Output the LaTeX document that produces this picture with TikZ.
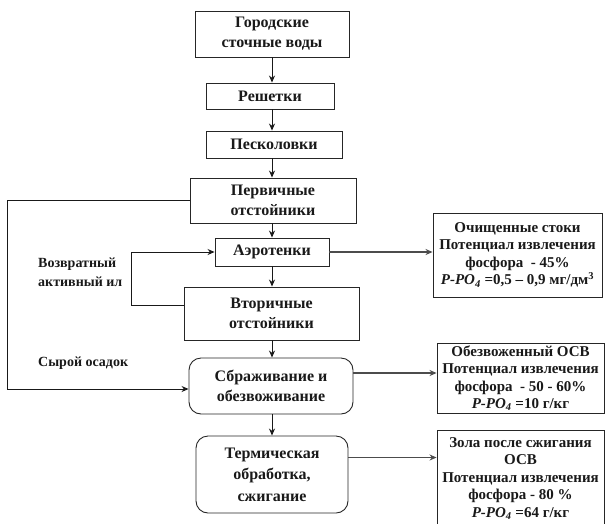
\documentclass[tikz,border=0pt]{standalone}
\usepackage{fontspec}
\setmainfont{Liberation Serif}
\usetikzlibrary{arrows.meta,calc}
\begin{document}
\begin{tikzpicture}[x=1pt,y=-1pt,
  every node/.style={font=\bfseries,text=black!90},
  mainbox/.style={draw=black!85,line width=0.9pt,align=center,font=\fontsize{16}{20}\selectfont\bfseries,inner sep=0pt},
  roundbox/.style={mainbox,rounded corners=12pt},
  infobox/.style={draw=black!85,line width=0.9pt,align=center,font=\fontsize{15}{17.5}\selectfont\bfseries,inner sep=0pt},
  lbl/.style={align=left,font=\fontsize{14}{19}\selectfont\bfseries,inner sep=0pt},
  flow/.style={draw=black!90,line width=0.9pt,-{Stealth[length=7pt,width=6pt]}},
  side/.style={draw=black!70,line width=1.3pt,-{Stealth[length=7pt,width=6pt]}}]
\useasboundingbox (0,0) rectangle (610,523);
\clip (0,0) rectangle (610,523);

\node[mainbox,minimum width=154,minimum height=46] (src) at (272,34) {Городские\\сточные воды};
\node[mainbox,minimum width=128,minimum height=26] (resh) at (270,96) {Решетки};
\node[mainbox,minimum width=136,minimum height=27] (pesk) at (274,144.5) {Песколовки};
\node[mainbox,minimum width=166,minimum height=45] (perv) at (273,200.5) {Первичные\\отстойники};
\node[mainbox,minimum width=114,minimum height=28] (aero) at (272,252) {Аэротенки};
\node[mainbox,minimum width=175,minimum height=53] (vtor) at (271.5,313.5) {Вторичные\\отстойники};
\node[roundbox,minimum width=164,minimum height=56] (sbr) at (271,386) {Сбраживание и\\обезвоживание};
\node[roundbox,minimum width=152,minimum height=77,font=\fontsize{16}{21.5}\selectfont\bfseries] (term) at (272,474.5) {Термическая\\обработка,\\сжигание};

\node[infobox,minimum width=169,minimum height=84] (och) at (517.5,255) {Очищенные стоки\\Потенциал извлечения\\фосфора\ \ - 45\%\\{\itshape P-PO\textsubscript{4}} =0,5 – 0,9 мг/дм\textsuperscript{3}};
\node[infobox,minimum width=167,minimum height=70] (obez) at (520.5,378) {Обезвоженный ОСВ\\Потенциал извлечения\\фосфора\ \ - 50 - 60\%\\{\itshape P-PO\textsubscript{4}} =10 г/кг};
\node[infobox,minimum width=167,minimum height=96,anchor=north] (zola) at (520.5,430) {Зола после сжигания\\ОСВ\\Потенциал извлечения\\фосфора - 80 \%\\{\itshape P-PO\textsubscript{4}} =64 г/кг};

\node[lbl,anchor=west] (vozv) at (38,272.5) {Возвратный\\активный ил};
\node[lbl,anchor=west] (syr) at (38,363) {Сырой осадок};

\coordinate (L) at (7,0);
\coordinate (R) at (131,0);
\coordinate (ax) at (272,0);

\draw[flow] (src.south -| ax) -- (resh.north -| ax);
\draw[flow] (resh.south -| ax) -- (pesk.north -| ax);
\draw[flow] (pesk.south -| ax) -- (perv.north -| ax);
\draw[flow] (perv.south -| ax) -- (aero.north -| ax);
\draw[flow] (aero.south -| ax) -- (vtor.north -| ax);
\draw[flow] (vtor.south -| ax) -- (sbr.north -| ax);
\draw[flow] (sbr.south -| ax) -- (term.north -| ax);

\draw[flow] (perv.west) -- (perv.west -| L) |- ([yshift=-3pt]sbr.west);
\draw[flow] ([yshift=8pt]vtor.west) -- ([yshift=8pt]vtor.west -| R) |- (aero.west);

\draw[side] (aero.east) -- (aero.east -| och.west);
\draw[side] ([yshift=13pt]sbr.east) -- ([yshift=13pt]sbr.east -| obez.west);
\draw[side] ([yshift=17pt]term.east) -- ([yshift=17pt]term.east -| zola.west);
\end{tikzpicture}
\end{document}
